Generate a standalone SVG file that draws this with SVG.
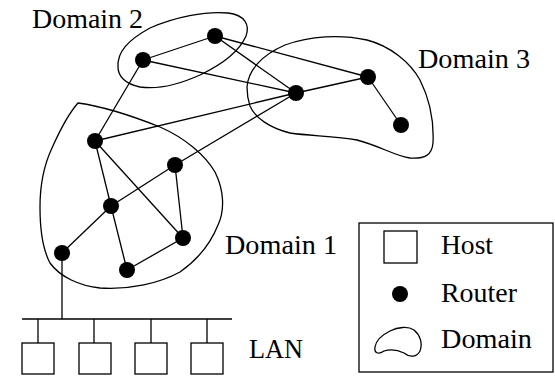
<svg xmlns="http://www.w3.org/2000/svg" width="555" height="376" viewBox="0 0 555 376">
<style>
.bg{fill:#fff}
.dom{fill:none;stroke:#000;stroke-width:1.3}
.edge{stroke:#000;stroke-width:1.3;fill:none}
.router{fill:#000}
.host{fill:#fff;stroke:#000;stroke-width:1.3}
.lbl{font-family:'Liberation Serif','DejaVu Serif',serif;font-size:27px;fill:#000}
</style>
<rect class="bg" x="0" y="0" width="555" height="376"/>

<g id="domain1"><path class="dom" d="M78,103 C100,106 130,115 160,127 C185,138 205,155 215,172 C224,190 225,210 218,225 C212,240 200,258 180,272 C160,283 130,290 100,288 C80,286 60,277 50,263 C42,248 40,225 40,207 C40,185 44,165 52,148 C60,130 70,112 78,103 Z"/><text class="lbl" font-family="Liberation Serif, DejaVu Serif, serif" x="225" y="254" textLength="112" lengthAdjust="spacingAndGlyphs">Domain 1</text></g>
<g id="domain2"><path class="dom" d="M118,67 C117,52 128,40 150,28 C175,17 205,11 228,13 C245,15 250,25 246,36 C240,50 225,63 200,75 C180,84 160,90 140,87 C125,84 118,76 118,67 Z"/><text class="lbl" font-family="Liberation Serif, DejaVu Serif, serif" x="32" y="28" textLength="111" lengthAdjust="spacingAndGlyphs">Domain 2</text></g>
<g id="domain3"><path class="dom" d="M247,87 C248,70 262,55 285,45 C310,36 340,34 367,40 C390,46 410,62 420,80 C430,100 434,122 433,143 C432,155 425,159 410,158 C395,156 380,146 357,140 C335,136 310,136 290,133 C270,128 255,118 250,106 C248,100 247,94 247,87 Z"/><text class="lbl" font-family="Liberation Serif, DejaVu Serif, serif" x="418" y="68" textLength="112" lengthAdjust="spacingAndGlyphs">Domain 3</text></g>

<g id="connectors">
<line class="edge" x1="143" y1="60" x2="215" y2="36"/>
<line class="edge" x1="143" y1="60" x2="296" y2="93"/>
<line class="edge" x1="215" y1="36" x2="296" y2="93"/>
<line class="edge" x1="215" y1="36" x2="368" y2="77"/>
<line class="edge" x1="296" y1="93" x2="368" y2="77"/>
<line class="edge" x1="368" y1="77" x2="401" y2="125"/>
<line class="edge" x1="143" y1="60" x2="95" y2="141"/>
<line class="edge" x1="95" y1="141" x2="296" y2="93"/>
<line class="edge" x1="175" y1="165" x2="296" y2="93"/>
<line class="edge" x1="95" y1="141" x2="111" y2="206"/>
<line class="edge" x1="95" y1="141" x2="183" y2="238"/>
<line class="edge" x1="175" y1="165" x2="111" y2="206"/>
<line class="edge" x1="175" y1="165" x2="183" y2="238"/>
<line class="edge" x1="111" y1="206" x2="62" y2="253"/>
<line class="edge" x1="111" y1="206" x2="127" y2="270"/>
<line class="edge" x1="127" y1="270" x2="183" y2="238"/>
<line class="edge" x1="62" y1="253" x2="62" y2="319"/>
<line class="edge" x1="22" y1="319" x2="232" y2="319"/>
<line class="edge" x1="38" y1="319" x2="38" y2="343"/>
<line class="edge" x1="94" y1="319" x2="94" y2="343"/>
<line class="edge" x1="151" y1="319" x2="151" y2="343"/>
<line class="edge" x1="207" y1="319" x2="207" y2="343"/>
</g>

<g id="r1"><circle class="router" cx="143" cy="60" r="8"/></g>
<g id="r2"><circle class="router" cx="215" cy="36" r="8"/></g>
<g id="r3"><circle class="router" cx="296" cy="93" r="8"/></g>
<g id="r4"><circle class="router" cx="368" cy="77" r="8"/></g>
<g id="r5"><circle class="router" cx="401" cy="125" r="8"/></g>
<g id="r6"><circle class="router" cx="95" cy="141" r="8"/></g>
<g id="r7"><circle class="router" cx="175" cy="165" r="8"/></g>
<g id="r8"><circle class="router" cx="111" cy="206" r="8"/></g>
<g id="r9"><circle class="router" cx="183" cy="238" r="8"/></g>
<g id="r10"><circle class="router" cx="62" cy="253" r="8"/></g>
<g id="r11"><circle class="router" cx="127" cy="270" r="8"/></g>

<g id="host1"><rect class="host" x="22" y="343" width="32" height="31"/></g>
<g id="host2"><rect class="host" x="79" y="343" width="32" height="31"/></g>
<g id="host3"><rect class="host" x="135" y="343" width="32" height="31"/></g>
<g id="host4"><rect class="host" x="191" y="343" width="32" height="31"/></g>
<g id="lan-label"><text class="lbl" font-family="Liberation Serif, DejaVu Serif, serif" x="249" y="358" textLength="54" lengthAdjust="spacingAndGlyphs">LAN</text></g>

<g id="legend">
<rect class="host" x="359" y="223" width="194" height="149" fill="none"/>
<rect class="host" x="384" y="231" width="33" height="32"/>
<text class="lbl" font-family="Liberation Serif, DejaVu Serif, serif" x="441" y="254" textLength="52" lengthAdjust="spacingAndGlyphs">Host</text>
<circle class="router" cx="400" cy="294" r="8"/>
<text class="lbl" font-family="Liberation Serif, DejaVu Serif, serif" x="441" y="302" textLength="76" lengthAdjust="spacingAndGlyphs">Router</text>
<path class="dom" d="M375,347 C376,340 382,335 390,331 C398,327 408,326 414,330 C420,335 423,343 420,351 C417,357 410,358 404,353 C398,350 390,349 384,351 C378,355 374,353 375,347 Z"/>
<text class="lbl" font-family="Liberation Serif, DejaVu Serif, serif" x="441" y="348" textLength="91" lengthAdjust="spacingAndGlyphs">Domain</text>
</g>
</svg>
